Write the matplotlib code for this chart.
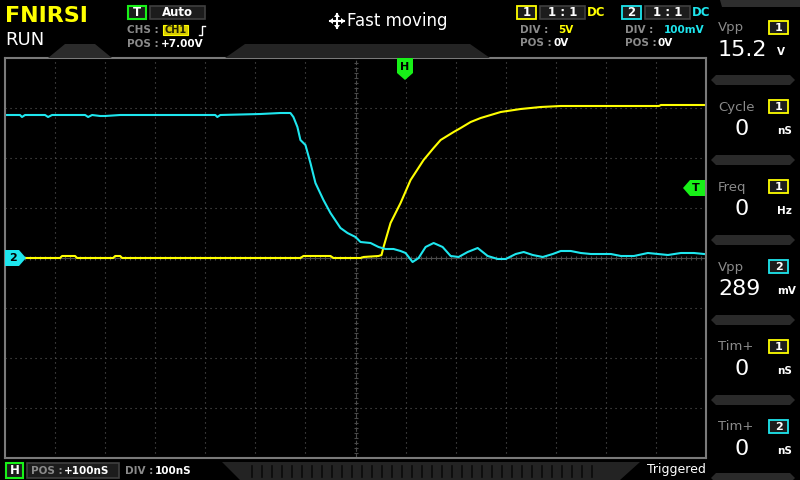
import matplotlib
matplotlib.use("Agg")
import matplotlib.pyplot as plt
from matplotlib.patches import Rectangle, Polygon

# Channel 1 (yellow), time in ns, volts
ch1_t = [-700, -590, -586, -560, -556, -484, -480, -470, -466, -110, -104, -50, -44,
         10, 16, 46, 52, 56, 70, 90, 110, 136, 156, 170, 196, 210, 230, 250, 270,
         290, 330, 370, 410, 490, 606, 610, 700]
ch1_v = [0.0, 0.0, 0.2, 0.2, 0.0, 0.0, 0.2, 0.2, 0.0, 0.0, 0.2, 0.2, 0.0,
         0.0, 0.1, 0.2, 0.3, 1.1, 3.5, 5.5, 7.8, 9.8, 11.0, 11.8, 12.6, 13.0, 13.6,
         14.0, 14.3, 14.6, 14.9, 15.1, 15.2, 15.2, 15.2, 15.3, 15.3]

# Channel 2 (cyan), time in ns, millivolts
ch2_t = [-700, -670, -666, -660, -620, -614, -606, -540, -534, -526, -510, -500,
         -470, -410, -310, -280, -276, -270, -190, -150, -130, -124, -116, -110,
         -100, -90, -80, -64, -50, -30, -16, 0, 10, 30, 46, 60, 76, 90, 100, 114,
         126, 140, 156, 174, 190, 206, 224, 244, 264, 284, 300, 320, 336, 354,
         374, 394, 410, 430, 450, 470, 490, 510, 530, 556, 584, 604, 624, 650,
         676, 696]
ch2_mv = [286, 286, 282, 286, 286, 282, 286, 286, 282, 286, 284, 284,
          286, 286, 286, 286, 282, 286, 288, 290, 290, 282, 262, 236,
          226, 190, 150, 116, 90, 60, 50, 42, 32, 30, 22, 18, 18, 14, 10, -8,
          0, 22, 30, 22, 4, 2, 12, 20, 4, -2, -2, 8, 12, 6,
          2, 8, 14, 14, 10, 8, 8, 8, 4, 4, 10, 8, 6, 10,
          10, 8]

ch1_div = 5.0     # V/div
ch2_div = 100.0   # mV/div
trig_level = 7.0  # V
h_pos = 100       # ns

YEL = "#ffff00"
CYN = "#1ee6ee"
GRN = "#18f018"
GRY = "#8a8a8a"
DARK = "#1c1c1c"
NARROW = ["DejaVu Sans Condensed", "DejaVu Sans"]

W, H = 800, 480
fig = plt.figure(figsize=(8, 4.8), dpi=100, facecolor="black")


def px(x, y):
    return x / W, 1 - y / H


def txt(x, y, s, color="white", size=9, weight="bold", ha="left", family=None, **kw):
    fig.text(*px(x, y), s, color=color, fontsize=size, fontweight=weight,
             ha=ha, va="center", family=family or ["DejaVu Sans"], **kw)


def box(x0, y0, x1, y1, edge, face=DARK, lw=1.2):
    fig.patches.append(Rectangle(px(x0, y1), (x1 - x0) / W, (y1 - y0) / H,
                                 transform=fig.transFigure, facecolor=face,
                                 edgecolor=edge, linewidth=lw))


def poly(pts, face, edge="none", lw=0):
    fig.patches.append(Polygon([px(*p) for p in pts], closed=True,
                               transform=fig.transFigure, facecolor=face,
                               edgecolor=edge, linewidth=lw))


# background shapes
poly([(48, 58), (65, 44), (95, 44), (112, 58)], "#2b2b2b")
poly([(225, 58), (245, 44), (470, 44), (490, 58)], "#242424")
poly([(720, 0), (800, 0), (800, 7), (722, 7)], "#2e2e2e")
for yy in [80, 160, 240, 320, 400, 478]:
    poly([(711, yy), (716, yy - 5), (790, yy - 5), (795, yy),
          (790, yy + 5), (716, yy + 5)], "#2a2a2a")
poly([(222, 462), (640, 462), (620, 480), (240, 480)], "#232323")

# scope area
ax = fig.add_axes([5 / W, 22 / H, 701 / W, 400 / H])
ax.set_facecolor("black")
ax.set_xlim(-700, 700)
ax.set_ylim(-4, 4)
ax.set_xticks([])
ax.set_yticks([])
for s in ax.spines.values():
    s.set_color("#7a7a7a")
    s.set_linewidth(1.5)

for gx in range(-600, 700, 100):
    if gx != 0:
        ax.axvline(gx, color="#5a5a5a", lw=0.8, ls=(0, (1, 3.5)))
for gy in range(-3, 4):
    if gy != 0:
        ax.axhline(gy, color="#5a5a5a", lw=0.8, ls=(0, (1, 3.5)))
ax.axvline(0, color="#4a4a4a", lw=0.8, ls=(0, (4, 2)))
ax.axhline(0, color="#4a4a4a", lw=0.8)
mt = list(range(-700, 701, 10))
ax.plot(mt, [0] * len(mt), ls="none", marker="|", ms=3.5, color="#4a4a4a", mew=0.8)
my = [i / 10 for i in range(-40, 41)]
ax.plot([0] * len(my), my, ls="none", marker="_", ms=3.5, color="#4a4a4a", mew=0.8)

ax.plot(ch1_t, [v / ch1_div for v in ch1_v], color=YEL, lw=1.5)
ax.plot(ch2_t, [v / ch2_div for v in ch2_mv], color=CYN, lw=1.5)

# markers
hx = 355 + h_pos / 2
poly([(hx - 8, 58), (hx + 8, 58), (hx + 8, 73), (hx, 80), (hx - 8, 73)], GRN)
txt(hx, 67, "H", color="black", size=8, ha="center")
ty = 258 - trig_level / ch1_div * 50
poly([(705, ty - 8), (690, ty - 8), (683, ty), (690, ty + 8), (705, ty + 8)], GRN)
txt(696, ty, "T", color="black", size=8, ha="center")
poly([(5, 250), (19, 250), (26, 258), (19, 266), (5, 266)], CYN)
txt(13, 258, "2", color="black", size=8, ha="center")

# header
txt(5, 16, "FNIRSI", color=YEL, size=16)
txt(5, 40, "RUN", size=13, weight="normal")
box(128, 6, 146, 19, GRN, lw=1.5)
txt(137, 13, "T", size=8.5, ha="center")
box(150, 6, 205, 19, "#404040")
txt(177, 13, "Auto", size=8.5, ha="center")
txt(127, 30, "CHS :", color=GRY, size=7.5, family=NARROW)
box(163, 25, 188, 35, YEL, face="#d8cc00", lw=0.8)
txt(175.5, 30, "CH1", color="#202000", size=7, ha="center", family=NARROW)
fig.lines.append(plt.Line2D([199 / W, 202 / W, 202 / W, 205 / W],
                            [1 - 35 / H, 1 - 35 / H, 1 - 26 / H, 1 - 26 / H],
                            transform=fig.transFigure, color="white", lw=1))
txt(127, 44, "POS :", color=GRY, size=7.5, family=NARROW)
txt(161, 44, "+7.00V", size=7.5, family=NARROW)

# four way arrow + fast moving
cx, cy = 337, 21
fig.lines.append(plt.Line2D([(cx - 7) / W, (cx + 7) / W], [1 - cy / H] * 2,
                            transform=fig.transFigure, color="white", lw=1.5))
fig.lines.append(plt.Line2D([cx / W] * 2, [1 - (cy - 7) / H, 1 - (cy + 7) / H],
                            transform=fig.transFigure, color="white", lw=1.5))
poly([(cx - 8, cy), (cx - 4, cy - 3), (cx - 4, cy + 3)], "white")
poly([(cx + 8, cy), (cx + 4, cy - 3), (cx + 4, cy + 3)], "white")
poly([(cx, cy - 8), (cx - 3, cy - 4), (cx + 3, cy - 4)], "white")
poly([(cx, cy + 8), (cx - 3, cy + 4), (cx + 3, cy + 4)], "white")
txt(347, 21, "Fast moving", size=12, weight="normal")

# channel boxes
for x0, lab, col, div in [(517, "1", YEL, "5V"), (622, "2", CYN, "100mV")]:
    box(x0, 6, x0 + 19, 19, col, lw=1.3)
    txt(x0 + 9.5, 13, lab, size=8.5, ha="center")
    box(x0 + 23, 6, x0 + 68, 19, "#404040")
    txt(x0 + 45.5, 13, "1 : 1", size=8.5, ha="center")
    txt(x0 + 70, 13, "DC", color=col, size=8.5)
    txt(x0 + 3, 30, "DIV :", color=GRY, size=7.5, family=NARROW)
    txt(x0 + (41 if lab == "1" else 42), 30, div, color=col, size=7.5, family=NARROW)
    txt(x0 + 3, 43, "POS :", color=GRY, size=7.5, family=NARROW)
    txt(x0 + 36, 43, "0V", size=7.5, family=NARROW)

# right panel
panel = [("Vpp", "1", YEL, "15.2", "V", 28, 718),
         ("Cycle", "1", YEL, "0", "nS", 107, 735),
         ("Freq", "1", YEL, "0", "Hz", 187, 735),
         ("Vpp", "2", CYN, "289", "mV", 267, 718),
         ("Tim+", "1", YEL, "0", "nS", 347, 735),
         ("Tim+", "2", CYN, "0", "nS", 427, 735)]
for name, ch, col, val, unit, y0, vx in panel:
    txt(718, y0, name, color=GRY, size=9.5, weight="normal")
    box(769, y0 - 7, 788, y0 + 6, col, lw=1.3)
    txt(778.5, y0, ch, size=8, ha="center")
    txt(vx, y0 + 22, val, size=16, weight="normal")
    txt(777, y0 + 24, unit, size=7.5)

# bottom bar
box(6, 463, 23, 478, GRN, lw=1.5)
txt(14.5, 470.5, "H", size=8.5, ha="center")
box(27, 463, 119, 478, "#404040")
txt(31, 470.5, "POS :", color=GRY, size=7.5, family=NARROW)
txt(64, 470.5, "+100nS", size=7.5, family=NARROW)
txt(125, 470.5, "DIV :", color=GRY, size=7.5, family=NARROW)
txt(155, 470.5, "100nS", size=7.5, family=NARROW)
for k in range(35):
    xx = 252 + k * 10
    fig.lines.append(plt.Line2D([xx / W] * 2, [1 - 466 / H, 1 - 477 / H],
                                transform=fig.transFigure, color="#0a0a0a", lw=1.2))
txt(706, 470, "Triggered", size=9, weight="normal", ha="right")

fig.savefig("out.png", dpi=100, facecolor="black")
